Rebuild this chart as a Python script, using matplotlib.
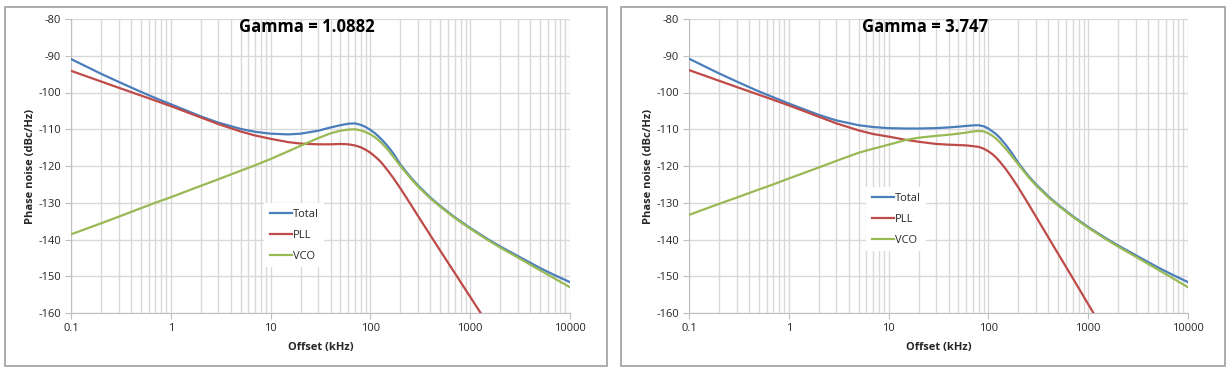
import matplotlib
matplotlib.use("Agg")
import matplotlib.pyplot as plt
from matplotlib.patches import Rectangle
from matplotlib.ticker import LogLocator, FixedLocator, NullFormatter

# ---------------- data ----------------
offset_khz = [0.1, 0.2, 0.3, 0.5, 0.7, 1, 2, 3, 5, 7, 10, 15, 20, 30, 40, 50, 60, 70, 80,
              90, 100, 110, 120, 130, 150, 170, 200, 250, 300, 400, 500, 700, 1000, 1500,
              2000, 3000, 5000, 7000, 10000]

# Gamma = 1.0882
total_1 = [-90.9, -94.9, -97.1, -99.8, -101.5, -103.2, -106.5, -108.2, -109.9, -110.7,
           -111.2, -111.4, -111.2, -110.4, -109.5, -108.9, -108.5, -108.4, -108.8,
           -109.4, -110.2, -111.0, -111.9, -112.8, -114.7, -116.6, -119.6, -122.9, -125.3,
           -128.6, -130.85, -133.95, -136.85, -139.9, -141.9, -144.5, -147.75, -149.7, -151.6]
pll_1 = [-94.1, -97.0, -98.7, -100.8, -102.2, -103.7, -106.8, -108.6, -110.6, -111.7,
         -112.6, -113.5, -113.9, -114.1, -114.1, -114.0, -114.1, -114.4, -114.9,
         -115.6, -116.4, -117.3, -118.2, -119.2, -121.3, -123.3, -126.1, -130.2, -133.6,
         -138.9, -143.0, -149.1, -155.6, -163.0, -168.3, -176.0, -185.0, -191.0, -197.0]
vco_1 = [-138.6, -135.6, -133.8, -131.5, -130.0, -128.5, -125.4, -123.6, -121.3, -119.8,
         -118.1, -116.0, -114.5, -112.4, -111.1, -110.4, -110.1, -110.0, -110.3,
         -110.8, -111.4, -112.1, -112.9, -113.8, -115.6, -117.5, -120.0, -123.2, -125.6,
         -128.85, -131.05, -134.15, -137.05, -140.15, -142.2, -144.9, -148.35, -150.6, -153.0]

# Gamma = 3.747
total_2 = [-90.8, -94.8, -97.0, -99.7, -101.3, -103.0, -106.1, -107.6, -108.9, -109.4,
           -109.7, -109.8, -109.8, -109.7, -109.5, -109.3, -109.1, -108.95, -108.9,
           -109.2, -109.8, -110.6, -111.4, -112.3, -114.3, -116.3, -119.2, -122.6, -125.0,
           -128.3, -130.55, -133.65, -136.6, -139.65, -141.65, -144.3, -147.6, -149.6, -151.6]
pll_2 = [-93.9, -96.8, -98.5, -100.6, -102.0, -103.5, -106.6, -108.4, -110.3, -111.3,
         -112.0, -112.9, -113.4, -114.0, -114.2, -114.3, -114.4, -114.6, -114.8,
         -115.3, -116.0, -116.8, -117.75, -118.8, -120.9, -123.0, -125.9, -130.2, -133.8,
         -139.5, -143.9, -150.5, -157.6, -165.6, -171.3, -179.0, -189.0, -196.0, -203.0]
vco_2 = [-133.3, -130.3, -128.6, -126.4, -125.0, -123.4, -120.4, -118.6, -116.4, -115.3,
         -114.2, -112.9, -112.3, -111.8, -111.5, -111.2, -110.9, -110.6, -110.45,
         -110.6, -111.1, -111.8, -112.6, -113.5, -115.4, -117.2, -119.6, -122.9, -125.3,
         -128.55, -130.75, -133.85, -136.8, -139.9, -141.95, -144.7, -148.2, -150.5, -153.0]

gammas = ["Gamma = 1.0882", "Gamma = 3.747"]
series_names = ["Total", "PLL", "VCO"]
x_ticks = [0.1, 1, 10, 100, 1000, 10000]
x_ticklabels = ["0.1", "1", "10", "100", "1000", "10000"]
y_ticks = [-80, -90, -100, -110, -120, -130, -140, -150, -160]

colors = ["#4a7ebb", "#be4b48", "#98b954"]

# ---------------- figure ----------------
W, H = 1230, 373
fig = plt.figure(figsize=(W / 100, H / 100), dpi=100)
plt.rcParams['font.family'] = ['Open Sans', 'DejaVu Sans']

def fx(px):
    return px / W

def fy(py):
    return 1 - py / H

panels = [
    dict(frame=(5, 7, 607, 366), ax=(71, 19, 570, 313), data=(total_1, pll_1, vco_1),
         title_x=307, leg=(0.387, 0.374)),
    dict(frame=(621, 7, 1225, 366), ax=(689, 19, 1188, 313), data=(total_2, pll_2, vco_2),
         title_x=925, leg=(0.355, 0.428)),
]

grid_c = "#d9d9d9"
for i, p in enumerate(panels):
    x0, y0, x1, y1 = p["frame"]
    fig.patches.append(Rectangle((fx(x0), fy(y1)), fx(x1 - x0), (y1 - y0) / H,
                                 transform=fig.transFigure, fill=False,
                                 edgecolor="#a6a6a6", linewidth=1.3))
    a0, b0, a1, b1 = p["ax"]
    ax = fig.add_axes([fx(a0), fy(b1), fx(a1 - a0), (b1 - b0) / H])
    ax.set_xscale("log")
    ax.set_xlim(0.1, 10000)
    ax.set_ylim(-160, -80)
    for name, vals, c in zip(series_names, p["data"], colors):
        ax.plot(offset_khz, vals, color=c, linewidth=1.6, label=name,
                solid_joinstyle="round", zorder=3)
    ax.xaxis.set_major_locator(FixedLocator(x_ticks))
    ax.set_xticklabels(x_ticklabels)
    ax.xaxis.set_minor_locator(LogLocator(base=10, subs=[2, 3, 4, 5, 6, 7, 8, 9]))
    ax.xaxis.set_minor_formatter(NullFormatter())
    ax.set_yticks(y_ticks)
    ax.set_yticklabels([str(v) for v in y_ticks])
    ax.grid(True, which="major", color=grid_c, linewidth=1.0, zorder=0)
    ax.grid(True, which="minor", axis="x", color=grid_c, linewidth=1.0, zorder=0)
    for s in ["top", "right"]:
        ax.spines[s].set_visible(False)
    ax.spines["left"].set_color("#bfbfbf")
    ax.spines["bottom"].set_color("#bfbfbf")
    ax.tick_params(axis="both", which="major", length=4, color="#bfbfbf",
                   labelsize=8, labelcolor="#262626", pad=3)
    ax.tick_params(axis="x", which="minor", length=0)
    ax.set_axisbelow(True)
    ax.set_xlabel("Offset (kHz)", fontsize=8, fontweight="bold", color="#262626", labelpad=6)
    ax.set_ylabel("Phase noise (dBc/Hz)", fontsize=8, fontweight="bold", color="#262626",
                  labelpad=2)
    fig.text(fx(p["title_x"]), fy(27), gammas[i], fontsize=12, fontweight="bold",
             ha="center", va="center", color="black")
    leg = ax.legend(loc="upper left", bbox_to_anchor=p["leg"], fontsize=8,
                    frameon=True, fancybox=False, edgecolor="white", facecolor="white",
                    framealpha=1, handlelength=2.0, handletextpad=0.1,
                    labelspacing=0.9, borderaxespad=0, borderpad=0.5)
    leg.get_frame().set_linewidth(0)
    for t in leg.get_texts():
        t.set_color("#262626")

fig.savefig("out.png", dpi=100, facecolor="white")
